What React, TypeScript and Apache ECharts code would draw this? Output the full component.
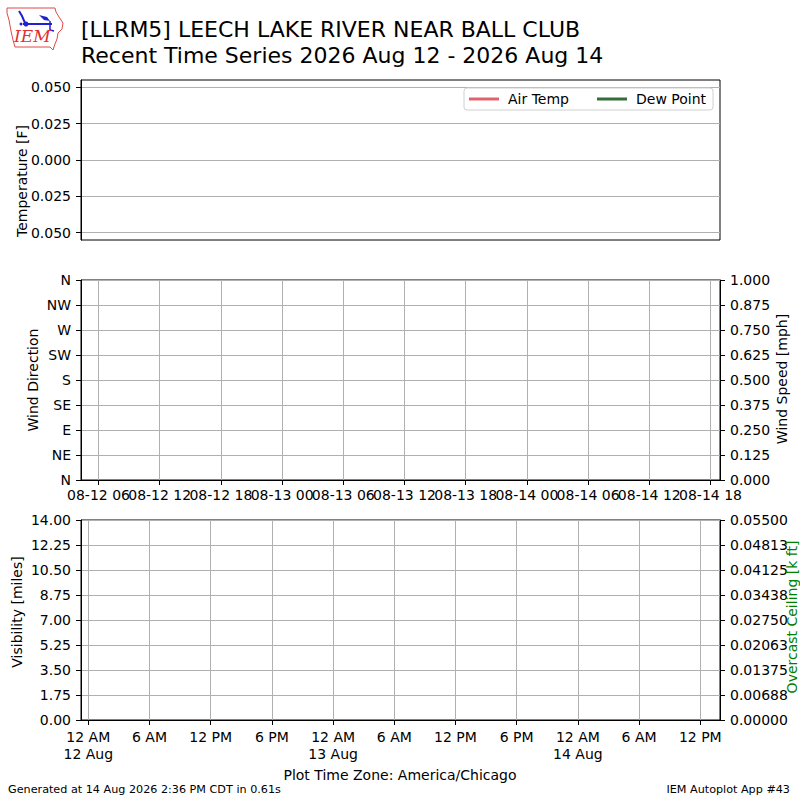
import React, { useEffect, useRef } from "react";
import * as echarts from "echarts";

// ---- Texts ----
const titleLine1 = "[LLRM5] LEECH LAKE RIVER NEAR BALL CLUB";
const titleLine2 = "Recent Time Series 2026 Aug 12 - 2026 Aug 14";
const footerLeft = "Generated at 14 Aug 2026 2:36 PM CDT in 0.61s";
const footerRight = "IEM Autoplot App #43";
const timeZoneLabel = "Plot Time Zone: America/Chicago";

// ---- Series data (station reported nothing in the window) ----
const airTemp: [number, number][] = [];
const dewPoint: [number, number][] = [];
const windDirection: [number, number][] = [];
const windSpeed: [number, number][] = [];
const visibility: [number, number][] = [];
const ceiling: [number, number][] = [];

// ---- Time axis extent (UTC) ----
const xStart = "2026-08-12T04:17:00Z";
const xEnd = "2026-08-14T18:56:00Z";

// ---- Wind panel ticks (UTC) ----
const utcTickTimes = [
  "2026-08-12T06:00:00Z", "2026-08-12T12:00:00Z", "2026-08-12T18:00:00Z",
  "2026-08-13T00:00:00Z", "2026-08-13T06:00:00Z", "2026-08-13T12:00:00Z",
  "2026-08-13T18:00:00Z", "2026-08-14T00:00:00Z", "2026-08-14T06:00:00Z",
  "2026-08-14T12:00:00Z", "2026-08-14T18:00:00Z",
];
const utcTickLabels = [
  "08-12 06", "08-12 12", "08-12 18", "08-13 00", "08-13 06", "08-13 12",
  "08-13 18", "08-14 00", "08-14 06", "08-14 12", "08-14 18",
];

// ---- Bottom panel ticks (America/Chicago) ----
const localTickTimes = [
  "2026-08-12T05:00:00Z", "2026-08-12T11:00:00Z", "2026-08-12T17:00:00Z",
  "2026-08-12T23:00:00Z", "2026-08-13T05:00:00Z", "2026-08-13T11:00:00Z",
  "2026-08-13T17:00:00Z", "2026-08-13T23:00:00Z", "2026-08-14T05:00:00Z",
  "2026-08-14T11:00:00Z", "2026-08-14T17:00:00Z",
];
const localTickLabels = [
  "12 AM\n12 Aug", "6 AM", "12 PM", "6 PM", "12 AM\n13 Aug", "6 AM",
  "12 PM", "6 PM", "12 AM\n14 Aug", "6 AM", "12 PM",
];

// ---- Y ticks ----
const tempTicks = [-0.05, -0.025, 0, 0.025, 0.05];
const directionLabels = ["N", "NE", "E", "SE", "S", "SW", "W", "NW", "N"];
const ceilingTickLabels = [
  "0.00000", "0.00688", "0.01375", "0.02063", "0.02750",
  "0.03438", "0.04125", "0.04813", "0.05500",
];

const FONT = "DejaVu Sans";
const GRID_COLOR = "#b0b0b0";

export default function App() {
  const ref = useRef<HTMLDivElement>(null);

  useEffect(() => {
    if (!ref.current) return;
    const chart = echarts.init(ref.current, undefined, { renderer: "svg" });

    const t = (s: string) => Date.parse(s);
    const xMin = t(xStart);
    const xMax = t(xEnd);
    const utcTicks = utcTickTimes.map(t);
    const localTicks = localTickTimes.map(t);
    const utcEven = utcTicks.filter((_, i) => i % 2 === 0);
    const utcOdd = utcTicks.filter((_, i) => i % 2 === 1);
    const indexFor = (ticks: number[], v: number) => {
      let best = 0;
      for (let i = 0; i < ticks.length; i++) {
        if (Math.abs(ticks[i] - v) < Math.abs(ticks[best] - v)) best = i;
      }
      return best;
    };

    const axisLineBlack = { show: true, lineStyle: { color: "#000", width: 1 } };
    const tickBlack = { show: true, length: 5, inside: false, lineStyle: { color: "#000", width: 1 } };
    const labelStyle = {
      color: "#000",
      fontSize: 14,
      fontFamily: FONT,
      showMinLabel: true,
      showMaxLabel: true,
      hideOverlap: false,
    };
    const gridBase = {
      left: 81,
      width: 639,
      show: true,
      borderColor: "#000",
      borderWidth: 1,
      backgroundColor: "transparent",
    };

    const text = (
      s: string,
      x: number,
      y: number,
      opts: { size?: number; align?: string; rotate?: boolean; color?: string } = {}
    ) => ({
      type: "text",
      x,
      y,
      rotation: opts.rotate ? Math.PI / 2 : 0,
      z: 10,
      style: {
        text: s,
        fill: opts.color || "#000",
        font: `${opts.size || 14}px "${FONT}"`,
        align: opts.align || "left",
        verticalAlign: "middle",
      },
    });

    const utcFormatter = (v: number) => utcTickLabels[indexFor(utcTicks, v)];

    const option: any = {
      animation: false,
      backgroundColor: "#fff",
      textStyle: { fontFamily: FONT },
      grid: [
        { ...gridBase, top: 80, height: 160 },
        { ...gridBase, top: 280, height: 200 },
        { ...gridBase, top: 520, height: 200 },
      ],
      legend: {
        data: ["Air Temp", "Dew Point"],
        left: 464,
        top: 88,
        orient: "horizontal",
        icon: "rect",
        itemWidth: 30,
        itemHeight: 3,
        itemGap: 28,
        padding: [4, 7, 4, 5],
        backgroundColor: "#fff",
        borderColor: "#d0d0d0",
        borderWidth: 1,
        borderRadius: 3,
        textStyle: { color: "#000", fontSize: 14, fontFamily: FONT, padding: [0, 0, 0, 4] },
      },
      xAxis: [
        {
          type: "value",
          gridIndex: 0,
          min: xMin,
          max: xMax,
          axisLine: { show: false },
          axisTick: { show: false },
          axisLabel: { show: false },
          splitLine: { show: false },
        },
        {
          // wind panel: ticks, grid and even-indexed labels
          type: "value",
          gridIndex: 1,
          position: "bottom",
          min: xMin,
          max: xMax,
          axisLine: axisLineBlack,
          axisTick: { ...tickBlack, customValues: utcTicks },
          axisLabel: { ...labelStyle, customValues: utcEven, margin: 8, formatter: utcFormatter },
          splitLine: { show: true, lineStyle: { color: GRID_COLOR, width: 1 } },
        },
        {
          type: "value",
          gridIndex: 2,
          position: "bottom",
          min: xMin,
          max: xMax,
          axisLine: axisLineBlack,
          axisTick: { ...tickBlack, customValues: localTicks },
          axisLabel: {
            ...labelStyle,
            customValues: localTicks,
            margin: 8,
            lineHeight: 17,
            formatter: (v: number) => localTickLabels[indexFor(localTicks, v)],
          },
          splitLine: { show: true, lineStyle: { color: GRID_COLOR, width: 1 } },
        },
        {
          // wind panel: odd-indexed labels (same scale, same position)
          type: "value",
          gridIndex: 1,
          position: "bottom",
          min: xMin,
          max: xMax,
          axisLine: { show: false },
          axisTick: { show: false },
          axisLabel: { ...labelStyle, customValues: utcOdd, margin: 8, formatter: utcFormatter },
          splitLine: { show: false },
        },
      ],
      yAxis: [
        {
          type: "value",
          gridIndex: 0,
          min: -0.055,
          max: 0.055,
          axisLine: axisLineBlack,
          axisTick: { ...tickBlack, customValues: tempTicks },
          axisLabel: {
            ...labelStyle,
            customValues: tempTicks,
            margin: 10,
            formatter: (v: number) => Math.abs(v).toFixed(3),
          },
          splitLine: { show: true, lineStyle: { color: GRID_COLOR, width: 1 } },
        },
        {
          type: "value",
          gridIndex: 1,
          position: "left",
          min: 0,
          max: 360,
          interval: 45,
          axisLine: axisLineBlack,
          axisTick: tickBlack,
          axisLabel: {
            ...labelStyle,
            margin: 10,
            formatter: (v: number) => directionLabels[Math.round(v / 45)],
          },
          splitLine: { show: true, lineStyle: { color: GRID_COLOR, width: 1 } },
        },
        {
          type: "value",
          gridIndex: 1,
          position: "right",
          min: 0,
          max: 1,
          interval: 0.125,
          axisLine: axisLineBlack,
          axisTick: tickBlack,
          axisLabel: { ...labelStyle, margin: 10, formatter: (v: number) => v.toFixed(3) },
          splitLine: { show: false },
        },
        {
          type: "value",
          gridIndex: 2,
          position: "left",
          min: 0,
          max: 14,
          interval: 1.75,
          axisLine: axisLineBlack,
          axisTick: tickBlack,
          axisLabel: { ...labelStyle, margin: 10, formatter: (v: number) => v.toFixed(2) },
          splitLine: { show: true, lineStyle: { color: GRID_COLOR, width: 1 } },
        },
        {
          type: "value",
          gridIndex: 2,
          position: "right",
          min: 0,
          max: 0.055,
          interval: 0.006875,
          axisLine: axisLineBlack,
          axisTick: tickBlack,
          axisLabel: {
            ...labelStyle,
            margin: 10,
            formatter: (v: number) => ceilingTickLabels[Math.round(v / 0.006875)],
          },
          splitLine: { show: false },
        },
      ],
      series: [
        { name: "Air Temp", type: "line", xAxisIndex: 0, yAxisIndex: 0, data: airTemp, color: "#e0626e", showSymbol: false, lineStyle: { width: 2 } },
        { name: "Dew Point", type: "line", xAxisIndex: 0, yAxisIndex: 0, data: dewPoint, color: "#356e38", showSymbol: false, lineStyle: { width: 2 } },
        { name: "Wind Direction", type: "scatter", xAxisIndex: 1, yAxisIndex: 1, data: windDirection, color: "#1f77b4" },
        { name: "Wind Speed", type: "line", xAxisIndex: 1, yAxisIndex: 2, data: windSpeed, color: "#ff7f0e", showSymbol: false },
        { name: "Visibility", type: "line", xAxisIndex: 2, yAxisIndex: 3, data: visibility, color: "#1f77b4", showSymbol: false },
        { name: "Overcast Ceiling", type: "line", xAxisIndex: 2, yAxisIndex: 4, data: ceiling, color: "#008000", showSymbol: false },
      ],
      graphic: [
        // logo
        {
          type: "polygon",
          z: 10,
          shape: {
            points: [
              [7, 8], [55, 8], [56, 12], [59, 17], [63, 23], [62, 29], [58, 33],
              [57, 39], [55, 44], [53, 50], [50, 47], [15, 47], [13, 40], [11, 31],
              [9, 20], [7, 13],
            ],
          },
          style: { fill: "none", stroke: "#e04848", lineWidth: 1 },
        },
        {
          type: "polyline",
          z: 10,
          shape: { points: [[19, 11], [22, 16], [25, 23]] },
          style: { stroke: "#2020d0", lineWidth: 2, fill: "none" },
        },
        {
          type: "line",
          z: 10,
          shape: { x1: 23, y1: 24, x2: 52, y2: 24 },
          style: { stroke: "#2020d0", lineWidth: 2 },
        },
        { type: "circle", z: 10, shape: { cx: 26, cy: 24, r: 2.5 }, style: { fill: "#2020d0" } },
        {
          type: "polygon",
          z: 10,
          shape: { points: [[39, 15], [47, 17], [50, 21], [44, 20]] },
          style: { fill: "#2020d0" },
        },
        {
          type: "polyline",
          z: 10,
          shape: { points: [[50, 21], [50, 30], [54, 31]] },
          style: { stroke: "#2020d0", lineWidth: 1.5, fill: "none" },
        },
        { type: "circle", z: 10, shape: { cx: 21, cy: 24, r: 1.5 }, style: { fill: "#2020d0" } },
        {
          type: "text",
          z: 10,
          x: 14,
          y: 36,
          style: {
            text: "IEM",
            fill: "#e03030",
            font: 'italic 17px "DejaVu Serif"',
            align: "left",
            verticalAlign: "middle",
          },
        },
        // titles
        text(titleLine1, 81, 29, { size: 22 }),
        text(titleLine2, 81, 55.5, { size: 22 }),
        // axis names
        text("Temperature [F]", 22, 181, { rotate: true, align: "center" }),
        text("Wind Direction", 33, 380, { rotate: true, align: "center" }),
        text("Wind Speed [mph]", 782, 379, { rotate: true, align: "center" }),
        text("Visibility [miles]", 17, 612, { rotate: true, align: "center" }),
        text("Overcast Ceiling [k ft]", 792, 617, { rotate: true, align: "center", color: "#008000" }),
        // footer
        text(timeZoneLabel, 400, 775, { align: "center" }),
        text(footerLeft, 8, 789, { size: 11.2 }),
        text(footerRight, 790, 789, { size: 11.2, align: "right" }),
      ],
    };

    chart.setOption(option);
    return () => chart.dispose();
  }, []);

  return (
    <div
      ref={ref}
      style={{ position: "fixed", left: 0, top: 0, width: 800, height: 800, background: "#fff" }}
    />
  );
}
